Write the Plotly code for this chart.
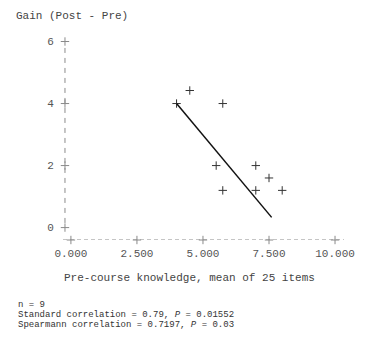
import plotly.graph_objects as go

# Data
pre_knowledge = [4.0, 4.5, 5.75, 5.5, 7.0, 7.5, 5.75, 7.0, 8.0]
gain = [4.0, 4.42, 4.0, 2.0, 2.0, 1.6, 1.2, 1.2, 1.2]
fit_x = [4.0, 7.6]
fit_y = [4.0, 0.33]
x_ticks = [0, 2.5, 5, 7.5, 10]
y_ticks = [0, 2, 4, 6]
title_text = "Gain (Post - Pre)"
xlabel_text = "Pre-course knowledge, mean of 25 items"
stats_lines = [
    "n = 9",
    "Standard correlation = 0.79, <i>P</i> = 0.01552",
    "Spearmann correlation = 0.7197, <i>P</i> = 0.03",
]

FONT = "Liberation Mono, Courier New, monospace"
AX = "#8a8a8a"
TXT = "#444444"

X0, X1 = -0.30, 10.34
Y0, Y1 = -0.40, 6.21
y_axis_x = -0.225

fig = go.Figure()

# axis tick crosses
fig.add_trace(go.Scatter(
    x=x_ticks, y=[Y0] * len(x_ticks), mode="markers",
    marker=dict(symbol="cross-thin", size=6, line=dict(width=1, color=AX)),
    cliponaxis=False, hoverinfo="skip", showlegend=False))
fig.add_trace(go.Scatter(
    x=[y_axis_x] * len(y_ticks), y=y_ticks, mode="markers",
    marker=dict(symbol="cross-thin", size=6, line=dict(width=1, color=AX)),
    cliponaxis=False, hoverinfo="skip", showlegend=False))

# data points
fig.add_trace(go.Scatter(
    x=pre_knowledge, y=gain, mode="markers",
    marker=dict(symbol="cross-thin", size=6, line=dict(width=1, color="#333333")),
    showlegend=False))

# regression line
fig.add_trace(go.Scatter(
    x=fit_x, y=fit_y, mode="lines",
    line=dict(color="#111111", width=1.5), showlegend=False))

shapes = [
    dict(type="line", xref="paper", yref="y", x0=0, x1=1, y0=Y0, y1=Y0,
         line=dict(color=AX, width=1, dash="4px,3px")),
    dict(type="line", xref="x", yref="y", x0=y_axis_x, x1=y_axis_x, y0=0.15, y1=5.85,
         line=dict(color=AX, width=1, dash="5px,5px")),
]

annotations = [
    dict(text=xlabel_text, xref="paper", yref="paper", x=0.45, y=-0.185,
         xanchor="center", yanchor="middle", showarrow=False,
         font=dict(family=FONT, size=11, color=TXT)),
]
stat_y = [304.5, 315, 325]
for line, py in zip(stats_lines, stat_y):
    annotations.append(dict(
        text=line, xref="paper", yref="paper",
        x=(16 - 63) / 284, y=-(py - 240) / 205,
        xanchor="left", yanchor="middle", showarrow=False,
        font=dict(family=FONT, size=9, color="#333333")))

fig.update_layout(
    width=367, height=338,
    margin=dict(l=63, r=20, t=35, b=98),
    paper_bgcolor="white", plot_bgcolor="white",
    title=dict(text=title_text, x=16 / 367, xanchor="left", xref="container",
               y=1 - 15.5 / 338, yanchor="middle", yref="container",
               font=dict(family=FONT, size=11, color=TXT)),
    xaxis=dict(range=[X0, X1], tickvals=x_ticks, tickformat=".3f",
               showgrid=False, zeroline=False, showline=False,
               ticks="outside", ticklen=3, tickcolor="rgba(0,0,0,0)",
               tickfont=dict(family=FONT, size=11, color="#555555")),
    yaxis=dict(range=[Y0, Y1], tickvals=y_ticks,
               showgrid=False, zeroline=False, showline=False,
               ticks="outside", ticklen=6, tickcolor="rgba(0,0,0,0)",
               tickfont=dict(family=FONT, size=11, color="#555555")),
    shapes=shapes, annotations=annotations,
)

fig.write_html("out.html")
